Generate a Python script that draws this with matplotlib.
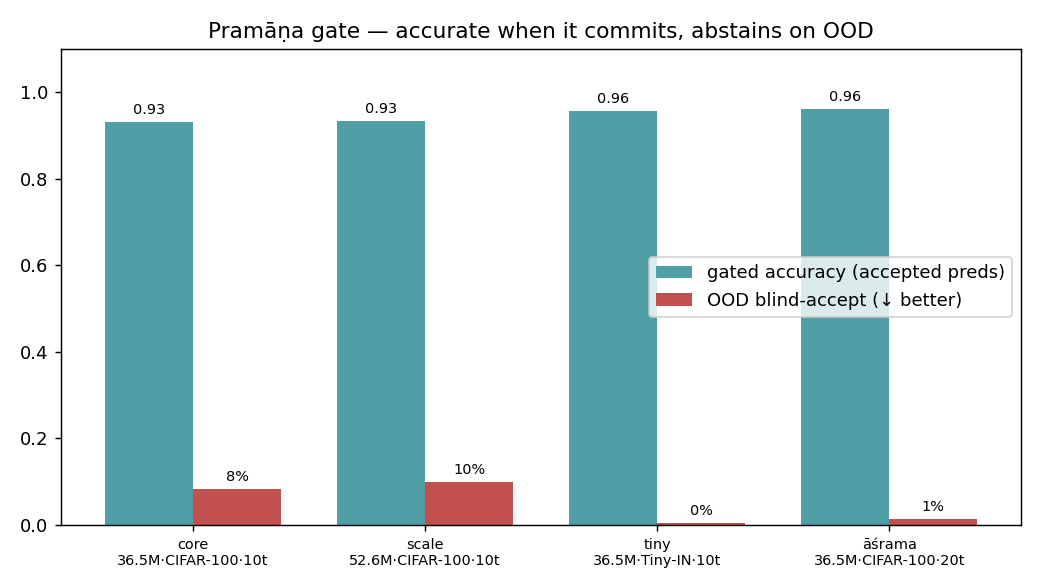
import matplotlib.pyplot as plt
import numpy as np

configs = ["core\n36.5M·CIFAR-100·10t", "scale\n52.6M·CIFAR-100·10t",
           "tiny\n36.5M·Tiny-IN·10t", "āśrama\n36.5M·CIFAR-100·20t"]
gated_acc = [0.931, 0.933, 0.956, 0.961]
ood_accept = [0.083, 0.099, 0.004, 0.013]

x = np.arange(len(configs))
w = 0.38

fig, ax = plt.subplots(figsize=(8, 4.5), dpi=130)
b1 = ax.bar(x - w / 2, gated_acc, w, color="#509fa6", label="gated accuracy (accepted preds)")
b2 = ax.bar(x + w / 2, ood_accept, w, color="#c2504e", label="OOD blind-accept (↓ better)")
ax.bar_label(b1, labels=[f"{v:.2f}" for v in gated_acc], padding=3, fontsize=8)
ax.bar_label(b2, labels=[f"{v:.0%}" for v in ood_accept], padding=3, fontsize=8)

ax.set_xticks(x)
ax.set_xticklabels(configs, fontsize=8)
ax.set_ylim(0, 1.1)
ax.set_title("Pramāṇa gate — accurate when it commits, abstains on OOD")
ax.legend(loc="center right")

fig.subplots_adjust(left=0.0587, right=0.9817, top=0.9162, bottom=0.1026)
fig.savefig("out.png")
